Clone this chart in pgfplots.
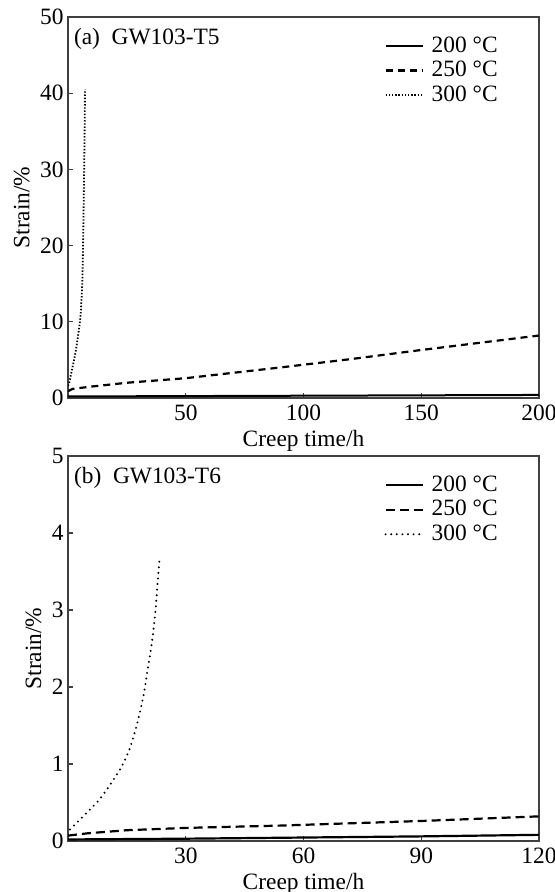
\documentclass[border=0pt]{standalone}
\usepackage{fontspec}
\setmainfont{Liberation Serif}
\usepackage{pgfplots}
\pgfplotsset{compat=1.18}
\newcommand\fs{\fontsize{11.75}{13}\selectfont}

\pgfplotsset{
  panel/.style={
    scale only axis, width=235.5bp,
    xmin=0, ymin=0,
    tick align=inside, xtick pos=bottom, ytick pos=left,
    major tick length=2.5bp,
    axis line style={black!75, line width=0.6bp},
    every tick/.style={black!75, line width=0.6bp},
    /pgf/number format/assume math mode=true,
    tick label style={font=\fs, inner sep=1bp},
    xticklabel style={yshift=-2.5bp},
    yticklabel style={xshift=-1bp},
    label style={font=\fs},
    xlabel={Creep time/h}, ylabel={Strain/\%},
    xlabel style={inner sep=0pt, yshift=-3.5bp},
    ylabel style={inner sep=1bp, yshift=3bp},
    legend style={draw=none, fill=none, font=\fs, at={(0.93,0.965)},
      anchor=north east, row sep=1bp, nodes={inner sep=1bp}},
    legend cell align=left,
    legend image code/.code={\draw[##1] (0bp,0bp) -- (18.5bp,0bp);
      \path (21.5bp,0bp);},
  },
}

\begin{document}
\begin{tikzpicture}
\useasboundingbox (0,0) rectangle (277.5bp,446bp);

% (a) GW103-T5
\begin{axis}[panel, at={(34bp,247bp)}, anchor=south west,
  height=190.5bp, xmax=200, ymax=50,
  xtick={50,100,150,200}, ytick={0,10,20,30,40,50}]
\addplot[black, line width=1bp] coordinates {
 (0,0.2) (50,0.25) (100,0.3) (150,0.35) (200,0.4)};
\addlegendentry{200 °C}
\addplot[black, line width=1.1bp, dash pattern=on 3.5bp off 2.5bp] coordinates {
 (0,0.9) (2,1.2) (10,1.5) (25,2.0) (50,2.6) (90,4.0) (120,5.1) (150,6.3) (200,8.2)};
\addlegendentry{250 °C}
\addplot[black, line width=0.9bp, smooth, dash pattern=on 0.7bp off 0.9bp] coordinates {
 (0,1.6) (0.6,2.1) (1.4,3.3) (2.3,4.6) (3.2,6.0) (4.0,7.6) (4.8,9.4) (5.4,11.1)
 (6.1,15.5) (6.5,22.1) (6.8,28.7) (7.1,36.1) (7.2,40.5)};
\addlegendentry{300 °C}
\node[anchor=north west, font=\fs, inner sep=0pt] at (axis description cs:0.012,1)
  [yshift=-5.5bp] {(a)\ \ GW103-T5};
\end{axis}

% (b) GW103-T6
\begin{axis}[panel, at={(34bp,25.5bp)}, anchor=south west,
  height=192.5bp, xmax=120, ymax=5,
  xtick={30,60,90,120}, ytick={0,1,2,3,4,5}]
\addplot[black, line width=1.1bp] coordinates {
 (0,0.02) (30,0.03) (60,0.045) (90,0.06) (120,0.08)};
\addlegendentry{200 °C}
\addplot[black, line width=1.1bp, dash pattern=on 4.5bp off 2.5bp] coordinates {
 (0,0.07) (5,0.1) (15,0.14) (30,0.17) (54,0.2) (90,0.26) (120,0.32)};
\addlegendentry{250 °C}
\addplot[black, line width=1.1bp, smooth, line cap=round, dash pattern=on 0bp off 2.8bp] coordinates {
 (0.5,0.15) (2.0,0.225) (5.6,0.41) (8.2,0.55) (11.1,0.76) (13.7,0.97)
 (15.8,1.21) (17.7,1.54) (19.2,1.88) (20.3,2.23) (21.3,2.55) (22.2,2.94)
 (22.8,3.33) (23.3,3.65)};
\addlegendentry{300 °C}
\node[anchor=north west, font=\fs, inner sep=0pt] at (axis description cs:0.012,1)
  [yshift=-5.5bp] {(b)\ \ GW103-T6};
\end{axis}
\end{tikzpicture}
\end{document}
